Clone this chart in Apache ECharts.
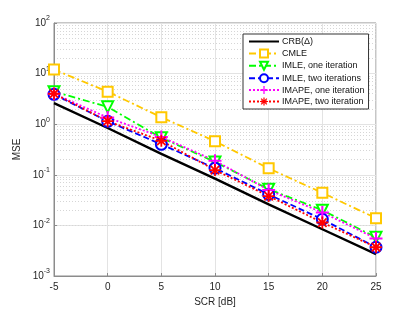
<!DOCTYPE html>
<html><head><meta charset="utf-8">
<script src="https://cdn.jsdelivr.net/npm/echarts@6/dist/echarts.min.js"></script>
<style>html,body{margin:0;padding:0;background:#fff}#c{width:415px;height:312px}</style>
</head><body><div id="c"></div>
<script>
const scr = [-5, 0, 5, 10, 15, 20, 25];
const crb = [2.6, 0.84, 0.26, 0.084, 0.026, 0.0084, 0.0027];
const cmle = [12, 4.4, 1.37, 0.46, 0.134, 0.044, 0.0139];
const imleOne = [4.4, 2.2, 0.54, 0.18, 0.052, 0.020, 0.0058];
const imleTwo = [3.9, 1.14, 0.40, 0.135, 0.041, 0.0132, 0.0037];
const imapeOne = [4.0, 1.35, 0.56, 0.19, 0.05, 0.018, 0.0055];
const imapeTwo = [4.0, 1.15, 0.47, 0.124, 0.038, 0.0114, 0.0037];
const names = ['CRB(\u0394)', 'CMLE', 'IMLE, one iteration', 'IMLE, two iterations', 'IMAPE, one iteration', 'IMAPE, two iteration'];

const pair = arr => scr.map((x, i) => [x, arr[i]]);
const minorVals = [];
for (let e = -3; e < 2; e++) for (let m = 2; m <= 9; m++) minorVals.push({ yAxis: m * Math.pow(10, e) });

const plusPath = 'path://M4.2,0 H5.8 V4.2 H10 V5.8 H5.8 V10 H4.2 V5.8 H0 V4.2 H4.2 Z';
const starPath = 'path://M0,8.5 L20,8.5 L20,11.5 L0,11.5 Z M8.5,0 L11.5,0 L11.5,20 L8.5,20 Z M3.99,1.87 L18.13,16.01 L16.01,18.13 L1.87,3.99 Z M18.13,3.99 L3.99,18.13 L1.87,16.01 L16.01,1.87 Z';

const font = 'Liberation Sans, Arial, sans-serif';
const chart = echarts.init(document.getElementById('c'), null, { renderer: 'canvas' });
chart.setOption({
  animation: false,
  backgroundColor: '#fff',
  textStyle: { fontFamily: font },
  grid: { left: 54, right: 39, top: 23, bottom: 35, show: true, borderColor: '#8c8c8c', borderWidth: 1, backgroundColor: '#fff' },
  legend: {
    orient: 'vertical', left: 243, top: 34,
    backgroundColor: '#fff', borderColor: '#333', borderWidth: 1,
    padding: [3, 4, 3, 5], itemGap: 2.4, itemWidth: 30, itemHeight: 10,
    textStyle: { fontSize: 9, color: '#111', fontFamily: font, padding: [0, 0, 0, -2] },
    data: [{ name: names[0], itemStyle: { opacity: 0 } }].concat(names.slice(1))
  },
  xAxis: {
    type: 'value', min: -5, max: 25, interval: 5,
    name: 'SCR [dB]', nameLocation: 'middle', nameGap: 21,
    nameTextStyle: { fontSize: 10, color: '#262626', fontFamily: font },
    axisLine: { show: true, onZero: false, lineStyle: { color: '#8c8c8c' } },
    axisTick: { show: true, inside: true, length: 3, lineStyle: { color: '#8c8c8c' } },
    axisLabel: { fontSize: 10, color: '#262626', margin: 6 },
    splitLine: { show: true, lineStyle: { color: '#e3e3e3', width: 1 } }
  },
  yAxis: {
    type: 'log', logBase: 10, min: 0.001, max: 100,
    name: 'MSE', nameLocation: 'middle', nameGap: 24,
    nameTextStyle: { fontSize: 10, color: '#262626', fontFamily: font },
    axisLine: { show: true, onZero: false, lineStyle: { color: '#8c8c8c' } },
    axisTick: { show: true, inside: true, length: 3, lineStyle: { color: '#8c8c8c' } },
    axisLabel: {
      fontSize: 10, color: '#262626', margin: 4,
      formatter: v => '10{s|' + Math.round(Math.log10(v)) + '}',
      rich: { s: { fontSize: 7, padding: [0, 0, 9, 0], color: '#262626' } }
    },
    splitLine: { show: true, lineStyle: { color: '#e3e3e3', width: 1 } }
  },
  series: [
    {
      name: names[0], type: 'line', data: pair(crb), symbol: 'none',
      lineStyle: { color: '#000', width: 2.4, type: 'solid' }, itemStyle: { color: '#000' },
      markLine: {
        silent: true, symbol: 'none', label: { show: false },
        lineStyle: { color: '#d6d6d6', type: [1, 2], width: 1 },
        data: minorVals, animation: false, z: 0
      }
    },
    {
      name: names[1], type: 'line', data: pair(cmle), symbol: 'emptyRect', symbolSize: 10,
      lineStyle: { color: '#FFC800', width: 1.8, type: [7, 3, 2, 3] },
      itemStyle: { color: '#FFC800', borderColor: '#FFC800', borderWidth: 2 }
    },
    {
      name: names[2], type: 'line', data: pair(imleOne), symbol: 'emptyTriangle', symbolRotate: 180, symbolSize: 11,
      lineStyle: { color: '#00FF00', width: 1.8, type: [7, 3, 2, 3] },
      itemStyle: { color: '#00FF00', borderColor: '#00FF00', borderWidth: 2 }
    },
    {
      name: names[3], type: 'line', data: pair(imleTwo), symbol: 'emptyCircle', symbolSize: 11,
      lineStyle: { color: '#0000FF', width: 1.8, type: [6, 3] },
      itemStyle: { color: '#0000FF', borderColor: '#0000FF', borderWidth: 2 }
    },
    {
      name: names[4], type: 'line', data: pair(imapeOne), symbol: plusPath, symbolSize: 13,
      lineStyle: { color: '#FF00FF', width: 1.8, type: [2, 2] },
      itemStyle: { color: '#FF00FF' }
    },
    {
      name: names[5], type: 'line', data: pair(imapeTwo), symbol: starPath, symbolSize: 12,
      lineStyle: { color: '#FF0000', width: 1.8, type: [2, 2] },
      itemStyle: { color: '#FF0000' }
    }
  ]
});
</script></body></html>
